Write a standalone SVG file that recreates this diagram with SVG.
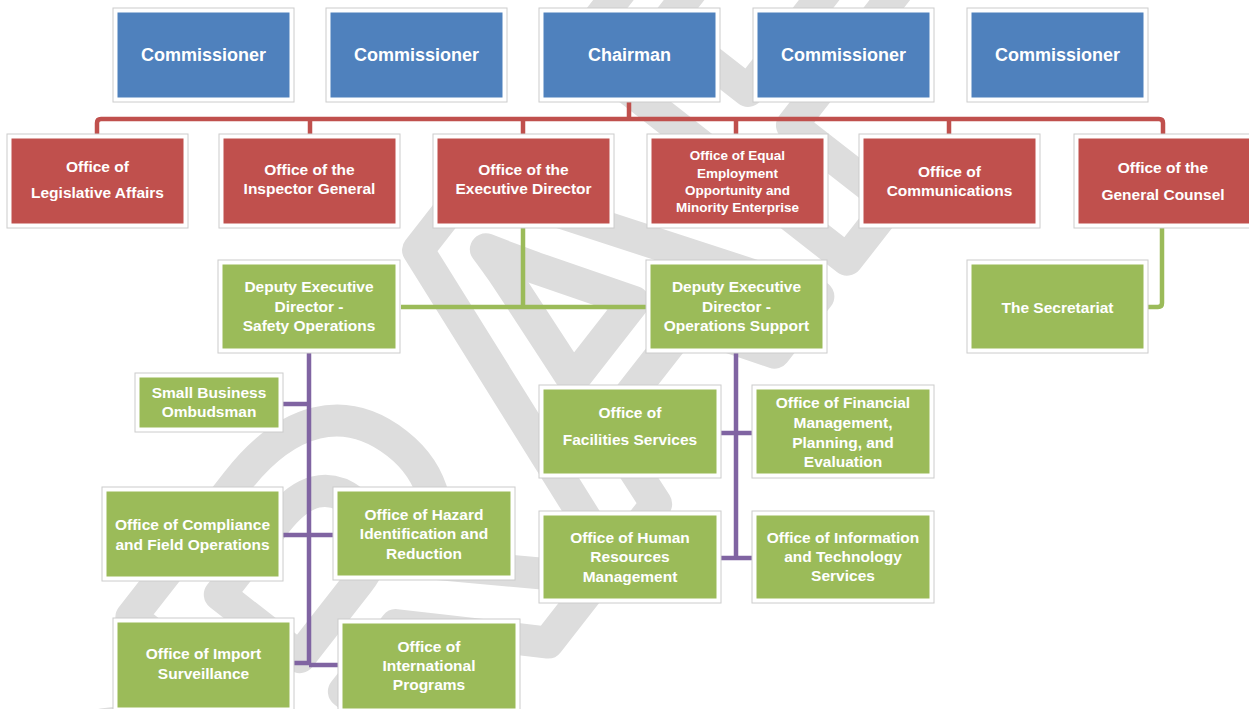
<svg xmlns="http://www.w3.org/2000/svg" width="1249" height="709" viewBox="0 0 1249 709">
<style>
.frame{fill:#ffffff;stroke:#cccccc;stroke-width:1}
.blue{fill:#4f81bd}
.red{fill:#c0504d}
.green{fill:#9bbb59}
.t{fill:#ffffff;font-family:"Liberation Sans",Arial,sans-serif;font-weight:bold;font-size:15.5px;text-anchor:middle}
.tb{font-size:18px}
.ts{font-size:13.5px}
.cr{fill:none;stroke:#c0504d;stroke-width:4.5}
.cg{fill:none;stroke:#9bbb59;stroke-width:4.5}
.cp{fill:none;stroke:#8064a2;stroke-width:4.5}
.wm{fill:none;stroke:#dddddd;stroke-width:32;stroke-linejoin:round;font-family:"Liberation Sans",Arial,sans-serif;font-weight:bold;font-size:500px;text-anchor:middle}
</style>
<rect width="1249" height="709" fill="#ffffff"/>
<text class="wm" transform="translate(540,362) rotate(-52)" y="179">DRAFT</text>

<g id="connectors">
  <path class="cr" d="M629,102 V119 M97,134 V123 Q97,119 101,119 H1159 Q1163,119 1163,123 V134 M310,119 V134 M523,119 V134 M736,119 V134 M949,119 V134"/>
  <path class="cg" d="M523,228 V307 M401,307 H646 M1162,228 V303 Q1162,307 1158,307 H1147"/>
  <path class="cp" d="M309,353 V665 M283,404 H309 M283,535 H333 M294,663 H309 M309,665 H338 M736,353 V558 M721,433 H752 M721,558 H752"/>
</g>

<g id="commissioner1"><rect class="frame" x="113" y="8" width="181" height="94"/><rect class="blue" x="117.5" y="12.5" width="172" height="85"/><text class="t tb" x="203.5" y="61">Commissioner</text></g>
<g id="commissioner2"><rect class="frame" x="326" y="8" width="181" height="94"/><rect class="blue" x="330.5" y="12.5" width="172" height="85"/><text class="t tb" x="416.5" y="61">Commissioner</text></g>
<g id="chairman"><rect class="frame" x="539" y="8" width="181" height="94"/><rect class="blue" x="543.5" y="12.5" width="172" height="85"/><text class="t tb" x="629.5" y="61">Chairman</text></g>
<g id="commissioner3"><rect class="frame" x="753" y="8" width="181" height="94"/><rect class="blue" x="757.5" y="12.5" width="172" height="85"/><text class="t tb" x="843.5" y="61">Commissioner</text></g>
<g id="commissioner4"><rect class="frame" x="967" y="8" width="181" height="94"/><rect class="blue" x="971.5" y="12.5" width="172" height="85"/><text class="t tb" x="1057.5" y="61">Commissioner</text></g>

<g id="legislative"><rect class="frame" x="7" y="134" width="181" height="94"/><rect class="red" x="11.5" y="138.5" width="172" height="85"/><text class="t" x="97.5"><tspan x="97.5" y="172">Office of</tspan><tspan x="97.5" y="198">Legislative Affairs</tspan></text></g>
<g id="inspector"><rect class="frame" x="219" y="134" width="181" height="94"/><rect class="red" x="223.5" y="138.5" width="172" height="85"/><text class="t" x="309.5"><tspan x="309.5" y="175">Office of the</tspan><tspan x="309.5" y="194">Inspector General</tspan></text></g>
<g id="execdirector"><rect class="frame" x="433" y="134" width="181" height="94"/><rect class="red" x="437.5" y="138.5" width="172" height="85"/><text class="t" x="523.5"><tspan x="523.5" y="175">Office of the</tspan><tspan x="523.5" y="194">Executive Director</tspan></text></g>
<g id="equal"><rect class="frame" x="647" y="134" width="181" height="94"/><rect class="red" x="651.5" y="138.5" width="172" height="85"/><text class="t ts" x="737.5"><tspan x="737.5" y="160">Office of Equal</tspan><tspan x="737.5" y="178">Employment</tspan><tspan x="737.5" y="195">Opportunity and</tspan><tspan x="737.5" y="212">Minority Enterprise</tspan></text></g>
<g id="communications"><rect class="frame" x="859" y="134" width="181" height="94"/><rect class="red" x="863.5" y="138.5" width="172" height="85"/><text class="t" x="949.5"><tspan x="949.5" y="177">Office of</tspan><tspan x="949.5" y="196">Communications</tspan></text></g>
<g id="counsel"><rect class="frame" x="1074" y="134" width="181" height="94"/><rect class="red" x="1078.5" y="138.5" width="172" height="85"/><text class="t" x="1163"><tspan x="1163" y="173">Office of the</tspan><tspan x="1163" y="200">General Counsel</tspan></text></g>

<g id="safety"><rect class="frame" x="218" y="260" width="182" height="93"/><rect class="green" x="222.5" y="264.5" width="173" height="84"/><text class="t" x="309"><tspan x="309" y="292">Deputy Executive</tspan><tspan x="309" y="312">Director -</tspan><tspan x="309" y="331">Safety Operations</tspan></text></g>
<g id="opssupport"><rect class="frame" x="646" y="260" width="181" height="93"/><rect class="green" x="650.5" y="264.5" width="172" height="84"/><text class="t" x="736.5"><tspan x="736.5" y="292">Deputy Executive</tspan><tspan x="736.5" y="312">Director -</tspan><tspan x="736.5" y="331">Operations Support</tspan></text></g>
<g id="secretariat"><rect class="frame" x="967" y="260" width="181" height="93"/><rect class="green" x="971.5" y="264.5" width="172" height="84"/><text class="t" x="1057.5" y="313">The Secretariat</text></g>

<g id="smallbusiness"><rect class="frame" x="135" y="373" width="148" height="59"/><rect class="green" x="139.5" y="377.5" width="139" height="50"/><text class="t" x="209"><tspan x="209" y="398">Small Business</tspan><tspan x="209" y="417">Ombudsman</tspan></text></g>
<g id="compliance"><rect class="frame" x="102" y="487" width="181" height="94"/><rect class="green" x="106.5" y="491.5" width="172" height="85"/><text class="t" x="192.5"><tspan x="192.5" y="530">Office of Compliance</tspan><tspan x="192.5" y="550">and Field Operations</tspan></text></g>
<g id="hazard"><rect class="frame" x="333" y="487" width="182" height="93"/><rect class="green" x="337.5" y="491.5" width="173" height="84"/><text class="t" x="424"><tspan x="424" y="520">Office of Hazard</tspan><tspan x="424" y="539">Identification and</tspan><tspan x="424" y="559">Reduction</tspan></text></g>
<g id="import"><rect class="frame" x="113" y="618" width="181" height="94"/><rect class="green" x="117.5" y="622.5" width="172" height="85"/><text class="t" x="203.5"><tspan x="203.5" y="659">Office of Import</tspan><tspan x="203.5" y="679">Surveillance</tspan></text></g>
<g id="international"><rect class="frame" x="338" y="619" width="182" height="94"/><rect class="green" x="342.5" y="623.5" width="173" height="85"/><text class="t" x="429"><tspan x="429" y="652">Office of</tspan><tspan x="429" y="671">International</tspan><tspan x="429" y="690">Programs</tspan></text></g>

<g id="facilities"><rect class="frame" x="539" y="385" width="182" height="93"/><rect class="green" x="543.5" y="389.5" width="173" height="84"/><text class="t" x="630"><tspan x="630" y="418">Office of</tspan><tspan x="630" y="445">Facilities Services</tspan></text></g>
<g id="financial"><rect class="frame" x="752" y="385" width="182" height="93"/><rect class="green" x="756.5" y="389.5" width="173" height="84"/><text class="t" x="843"><tspan x="843" y="408">Office of Financial</tspan><tspan x="843" y="428">Management,</tspan><tspan x="843" y="448">Planning, and</tspan><tspan x="843" y="467">Evaluation</tspan></text></g>
<g id="humanresources"><rect class="frame" x="539" y="511" width="182" height="92"/><rect class="green" x="543.5" y="515.5" width="173" height="83"/><text class="t" x="630"><tspan x="630" y="543">Office of Human</tspan><tspan x="630" y="562">Resources</tspan><tspan x="630" y="582">Management</tspan></text></g>
<g id="infotech"><rect class="frame" x="752" y="511" width="182" height="92"/><rect class="green" x="756.5" y="515.5" width="173" height="83"/><text class="t" x="843"><tspan x="843" y="543">Office of Information</tspan><tspan x="843" y="562">and Technology</tspan><tspan x="843" y="581">Services</tspan></text></g>
</svg>
